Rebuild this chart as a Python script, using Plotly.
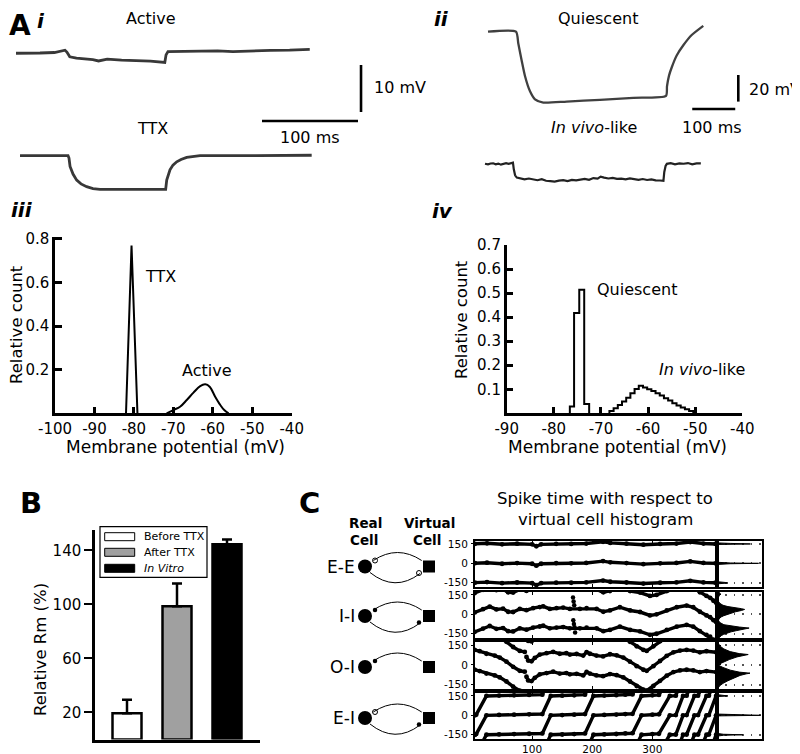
import plotly.graph_objects as go

# the page puts the figure 8px in from the corner, so positions below are page pixels shifted by OFF
OFF = 8
W, H = 800 - OFF, 754 - OFF
FONT = "DejaVu Sans"

# ---------------- A i : traces (ms, mV relative to resting level)
active_t = [0, 12, 25, 40, 51, 53, 56, 63, 72, 80, 86, 95, 110, 125, 140, 155, 156.3, 158.3, 175, 192, 210, 226, 245, 265, 285, 306]
active_dv = [-0.05, 0.05, 0.0, 0.1, 0.6, 0.2, -0.8, -1.1, -1.3, -1.4, -1.7, -1.3, -1.5, -1.6, -1.75, -2.0, -0.4, 0.3, 0.35, 0.4, 0.45, 0.3, 0.5, 0.55, 0.6, 0.75]
ttx_t = [4.2, 54.2, 55.2, 56.3, 59.4, 63.2, 67.7, 73.6, 80.2, 87.5, 155.9, 157.0, 160.4, 163.5, 167.4, 171.9, 177.8, 184.4, 191.7, 250, 308]
ttx_dv = [0, 0, -0.5, -2.3, -3.9, -5.2, -6.0, -6.6, -7.0, -7.15, -7.15, -5.2, -3.0, -2.0, -1.3, -0.8, -0.35, -0.13, 0, 0, 0.1]
scale_i = {"ms": 100, "mv": 10}

# ---------------- A ii
quiescent_t = [0, 65, 70.5, 78.4, 86, 97.7, 109.3, 128.6, 183, 260.5, 337.9, 414, 416.3, 421, 427.2, 438.8, 454.2, 473.7, 500.7]
quiescent_dv = [0, 0, -8.9, -21.8, -33.3, -44.8, -50.8, -53.3, -52.5, -51.2, -49.7, -48.2, -41, -33, -26.9, -17.9, -10.2, -2.5, 4.4]
invivo_t = [-7, 0, 6, 12, 18, 24, 30, 36, 42, 48, 54, 58, 60, 63, 67, 75, 85, 95, 105, 115, 125, 135, 145, 155,
            165, 175, 185, 195, 205, 215, 225, 235, 245, 255, 262, 270, 280, 290, 300, 310, 320, 330, 340, 350,
            360, 370, 380, 390, 400, 408, 410, 413, 416, 425, 435, 445, 455, 465, 475, 485, 495]
invivo_dv = [0.2, -0.3, 0.4, 0.5, -0.2, 0.3, -0.5, 0.2, 0.6, 0.1, 0.8, 1.0, -4.0, -8.5, -10.2, -10.8, -11.5, -10.9,
             -11.8, -12.2, -11.4, -12.6, -12.9, -13.2, -12.5, -12.1, -12.8, -11.9, -12.3, -11.6, -11.2, -11.9,
             -10.6, -11.0, -9.5, -10.2, -10.9, -10.4, -11.2, -11.0, -11.6, -10.8, -11.5, -11.9, -11.3, -12.0,
             -11.6, -12.3, -12.4, -12.7, -6.0, -1.5, 0.1, 0.6, -0.2, 0.4, 0.2, 0.7, -0.3, 0.5, 0.4]
scale_ii = {"ms": 100, "mv": 20}

# ---------------- A iii : membrane potential histograms
ttx_hist_v = [-82.0, -80.6, -79.1]
ttx_hist_c = [0, 0.77, 0]
active_hist_v = [-71.7, -70.0, -68.3, -66.6, -64.9, -63.2, -61.9, -60.8, -59.4, -58.1, -57.1, -56.0]
active_hist_c = [0, 0.015, 0.03, 0.061, 0.095, 0.125, 0.133, 0.122, 0.076, 0.038, 0.015, 0]

# ---------------- A iv
quiet_edges = [-76.6, -75.7, -74.6, -73.55, -72.5]
quiet_counts = [0.028, 0.417, 0.514, 0.039]
vivo_edges = [-68.2, -67.31, -66.42, -65.53, -64.64, -63.75, -62.86, -61.97, -61.08, -60.19, -59.3,
              -58.41, -57.52, -56.63, -55.74, -54.85, -53.96, -53.07, -52.18, -51.29, -50.4]
vivo_counts = [0.01, 0.021, 0.035, 0.049, 0.065, 0.083, 0.101, 0.115, 0.107, 0.1, 0.093, 0.083, 0.074,
               0.0625, 0.053, 0.042, 0.032, 0.024, 0.017, 0.01]

# ---------------- B
rm_groups = ["Before TTX", "After TTX", "<i>In Vitro</i>"]
rm_mean = [19.5, 98.5, 144.5]
rm_err = [10, 17, 3.5]
rm_colors = ["white", "#a0a0a0", "black"]

# ---------------- C : spike phase relative to virtual cell
PERIOD = 150
c_rows = ["E-E", "I-I", "O-I", "E-I"]
ee_x = [5, 25, 50, 75, 100, 107, 115, 140, 165, 190, 218, 230, 257, 285, 313, 340, 363, 385, 405]
ee_p = [1, 5, -3, 2, -3, -18, -3, 1, 0, 3, 17, 8, 2, -6, 0, 3, 15, 3, 0]
ii_x = [4.5, 18.4, 29.5, 40.6, 51.7, 60, 68.4, 79.5, 90.6, 101.7, 112.8, 118.4, 129.5, 140.6, 151.7, 162.8,
        179.5, 190.6, 207.3, 218.4, 229.5, 246, 263, 279.5, 296, 307, 324, 340.6, 357, 368, 379, 390, 396, 401.6, 406]
ii_p = [15, 40, 60, 38, 44, 20, 18, 42, 32, 48, 56, 62, 42, 48, 52, 42, 42, 48, 42, 20, 30, 55, 30, 18, -8, 0,
        30, 55, 68, 55, 20, -8, -22, -45, -60]
ii_slip_x = [168, 169, 170, 168.5, 169.5, 170.5, 171.5]
ii_slip_y = [130, 100, 70, -45, -75, -100, -140]
oi_x = [4.5, 12.8, 24, 37.8, 46.2, 57.3, 68.4, 79.5, 87.8, None,
        90.6, 93.4, 99, 104.5, 112.8, 124, 135, 146, 157, 162.8, 174, 185, 190.6, 196, 207, 218, 229.5, 240.6,
        251.7, 262.8, 273.9, 285, 290.6, 301.7, 312.8, 323.9, 335, 346, 357, 368, 379, 390, 406]
oi_p = [113, 103, 84, 70, 55, 24, -15, -45, -52, None,
        60, 32, 27, 52, 78, 88, 98, 84, 88, 78, 82, 70, 96, 84, 70, 64, 80, 72, 55, 24, -10, -37, -45, -10,
        29, 68, 95, 108, 113, 108, 95, 103, 95]
ei_x = [5, 7, 24, 45, 70, 95, 117, 131, 150, 170, 188, 202, 220, 240, 255, 267, 282, 300, 311, 329, 339, 351,
        357, 370, 376, 390, 394, 406]
ei_p = [-150, -145, 0, 3, 5, 8, 10, 150, 152, 155, 160, 300, 303, 306, 310, 312, 450, 455, 458, 600, 602, 750,
        752, 900, 902, 1050, 1052, 1200]

# histograms on the right of each raster (phase, relative count)
ee_h_p = [-185, -165, -158, -152, -148, -142, -135, -15, -8, -3, 0, 3, 8, 15, 140, 146, 150, 154, 158, 175]
ee_h_c = [0, 0, 0.02, 0.25, 0.2, 0.02, 0, 0, 0.03, 0.3, 0.93, 0.3, 0.03, 0, 0, 0.05, 0.75, 0.3, 0.02, 0]
ii_h_p = [-185, -175, -165, -155, -145, -135, -125, -115, -106, -98, -90, -80, -65, -50, -35, -20, -10, 0, 10,
          20, 30, 38, 44, 50, 60, 70, 85, 100, 120, 140, 160, 175]
ii_h_c = [0.04, 0.06, 0.1, 0.15, 0.22, 0.32, 0.45, 0.6, 0.72, 0.5, 0.3, 0.16, 0.08, 0.04, 0.05, 0.1, 0.16, 0.24,
          0.33, 0.42, 0.55, 0.62, 0.55, 0.4, 0.25, 0.14, 0.07, 0.04, 0.03, 0.05, 0.08, 0.04]
oi_h_p = [-185, -170, -155, -140, -120, -100, -80, -68, -63, -55, -40, -20, -5, 5, 20, 40, 60, 72, 78, 85,
          100, 120, 140, 160, 175]
oi_h_c = [0.02, 0.04, 0.08, 0.14, 0.25, 0.38, 0.52, 0.66, 0.74, 0.5, 0.3, 0.14, 0.05, 0.05, 0.14, 0.28, 0.45,
          0.62, 0.7, 0.5, 0.3, 0.16, 0.08, 0.04, 0.02]
ei_h_p = [-185, -160, -154, -150, -146, -140, -10, -4, 0, 4, 10, 140, 146, 150, 154, 160, 175]
ei_h_c = [0, 0.02, 0.15, 0.58, 0.15, 0.02, 0.01, 0.05, 0.97, 0.05, 0.01, 0.01, 0.05, 0.25, 0.05, 0.01, 0]

# schematic of the real / virtual cell coupling
diag_links = {
    "E-E": [("up", "exc"), ("down", "exc")],
    "I-I": [("up", "inh"), ("down", "inh")],
    "O-I": [("up", "inh")],
    "E-I": [("up", "exc"), ("down", "inh")],
}


def X(p):
    return (p - OFF) / W


def Y(p):
    return 1 - (p - OFF) / H


def xd(a, b):
    return [X(a), X(b)]


def yd(top, bottom):
    return [Y(bottom), Y(top)]


def names(n):
    return ("x" if n == 1 else f"x{n}", "y" if n == 1 else f"y{n}")


def shifted(vals, k):
    return [None if v is None else v + k * PERIOD for v in vals]


def hyphen(vals):
    return [str(v) for v in vals]


fig = go.Figure()
layout = {}
hidden = dict(visible=False, showgrid=False, zeroline=False)


def add(n, **kw):
    xa, ya = names(n)
    kw.setdefault("showlegend", False)
    kw.setdefault("hoverinfo", "skip")
    fig.add_trace(go.Scatter(xaxis=xa, yaxis=ya, **kw))


def set_axes(n, xdict, ydict):
    xa, ya = names(n)
    xdict.setdefault("automargin", False)
    ydict.setdefault("automargin", False)
    layout["xaxis" if n == 1 else f"xaxis{n}"] = dict(anchor=ya, **xdict)
    layout["yaxis" if n == 1 else f"yaxis{n}"] = dict(anchor=xa, **ydict)


trace_line = dict(color="#383838", width=2.8)

# A i  (0.96 px per ms, 4.7 px per mV)
set_axes(1, dict(domain=xd(8, 400), range=[-8.33, 400], **hidden),
         dict(domain=yd(30, 130), range=[-16.38, 4.89], **hidden))
set_axes(2, dict(domain=xd(8, 400), range=[-8.33, 400], **hidden),
         dict(domain=yd(130, 200), range=[-9.43, 5.47], **hidden))
add(1, x=active_t, y=active_dv, mode="lines", line=trace_line)
add(2, x=ttx_t, y=ttx_dv, mode="lines", line=trace_line)
add(1, x=[359.4, 359.4], y=[-2.55, -2.55 - scale_i["mv"]], mode="lines", line=dict(color="black", width=2.6))
add(1, x=[256.25, 256.25 + scale_i["ms"]], y=[-14.47, -14.47], mode="lines", line=dict(color="black", width=2.6))

# A ii  (0.43 px per ms, 1.33 px per mV)
set_axes(3, dict(domain=xd(400, 800), range=[-204.65, 725.6], **hidden),
         dict(domain=yd(15, 115), range=[-62.63, 12.56], **hidden))
set_axes(4, dict(domain=xd(400, 800), range=[-204.65, 725.6], **hidden),
         dict(domain=yd(135, 195), range=[-23.3, 21.8], **hidden))
add(3, x=quiescent_t, y=quiescent_dv, mode="lines", line=dict(color="#404040", width=2.3, shape="spline", smoothing=0.6))
add(4, x=invivo_t, y=invivo_dv, mode="lines", line=dict(color="#222", width=2.2))
add(3, x=[582.1, 582.1], y=[-32.56, -32.56 - scale_ii["mv"]], mode="lines", line=dict(color="black", width=2.6))
add(3, x=[475, 475 + scale_ii["ms"]], y=[-58.1, -58.1], mode="lines", line=dict(color="black", width=2.6))

# A iii / iv histograms
hist_ax = dict(showline=True, linewidth=2.5, linecolor="black", ticks="inside", ticklen=7, tickwidth=2.5,
               tickcolor="black", showgrid=False, zeroline=False, tickangle=0,
               tickfont=dict(size=15, color="black"))
iii_xt = list(range(-100, -39, 10))
iv_xt = list(range(-90, -39, 10))
set_axes(5, dict(domain=xd(55, 291.7), range=[-100, -40], tickvals=iii_xt, ticktext=hyphen(iii_xt), **hist_ax),
         dict(domain=yd(236.7, 413.3), range=[0, 0.81], tickvals=[0.2, 0.4, 0.6, 0.8], **hist_ax))
add(5, x=ttx_hist_v, y=ttx_hist_c, mode="lines", line=dict(color="black", width=2))
add(5, x=active_hist_v, y=active_hist_c, mode="lines", line=dict(color="black", width=2, shape="spline"))

set_axes(6, dict(domain=xd(506.7, 742.3), range=[-90, -40], tickvals=iv_xt, ticktext=hyphen(iv_xt), **hist_ax),
         dict(domain=yd(245, 413.3), range=[0, 0.7], tickvals=[0.1, 0.2, 0.3, 0.4, 0.5, 0.6, 0.7], **hist_ax))
for edges, counts in [(quiet_edges, quiet_counts), (vivo_edges, vivo_counts)]:
    add(6, x=[edges[0]] + edges, y=[0] + counts + [0], mode="lines",
        line=dict(color="black", width=2, shape="hv"))

# B
set_axes(7, dict(domain=xd(95, 260), range=[-0.64, 2.66], showline=True, linewidth=2.5, linecolor="black",
                 showticklabels=False, ticks="", showgrid=False, zeroline=False),
         dict(domain=yd(530, 739.5), range=[0, 155], tickvals=[20, 60, 100, 140], showline=True, linewidth=2.5,
              linecolor="black", ticks="outside", ticklen=8, tickwidth=2.2, tickcolor="black", showgrid=False,
              zeroline=False, tickfont=dict(size=15, color="black")))
fig.add_trace(go.Bar(x=[0, 1, 2], y=rm_mean, width=0.58, xaxis="x7", yaxis="y7", showlegend=False,
                     hoverinfo="skip", marker=dict(color=rm_colors, line=dict(color="black", width=2.5)),
                     error_y=dict(type="data", symmetric=False, array=rm_err, arrayminus=[0, 0, 0],
                                  color="black", thickness=2.5, width=5)))

# C schematic (axis units = page pixels)
set_axes(8, dict(domain=xd(320, 450), range=[320, 450], **hidden),
         dict(domain=yd(540, 740), range=[740, 540], **hidden))
row_y = [566.5, 616, 667, 718]
add(8, x=[365] * 4, y=row_y, mode="markers", marker=dict(symbol="circle", size=14, color="black"))
add(8, x=[429] * 4, y=row_y, mode="markers", marker=dict(symbol="square", size=12, color="black"))
shapes = []
for name, yc in zip(c_rows, row_y):
    for side, kind in diag_links[name]:
        if side == "up":
            path = f"M 373.3,{yc - 6} Q 397.5,{yc - 22} 421.7,{yc - 6}"
            ex, ey = 375, yc - 6
        else:
            path = f"M 370,{yc + 6} Q 395,{yc + 26} 420,{yc + 7}"
            ex, ey = 419, yc + 6.5
        shapes.append(dict(type="path", path=path, xref="x8", yref="y8", line=dict(color="black", width=1)))
        if kind == "exc":
            add(8, x=[ex], y=[ey], mode="markers",
                marker=dict(symbol="circle-open", size=5, color="black", line=dict(width=1)))
        else:
            add(8, x=[ex], y=[ey], mode="markers", marker=dict(symbol="circle", size=4.5, color="black"))

# C rasters + histograms
row_dom = [(540.7, 587.3), (591.7, 638.3), (641.7, 689.3), (692.7, 739.3)]
raster = [(ee_x, ee_p, [-1, 0, 1]), (ii_x, ii_p, [-1, 0, 1]), (oi_x, oi_p, [-1, 0, 1]),
          (ei_x, ei_p, list(range(-9, 2)))]
hists = [(ee_h_p, ee_h_c), (ii_h_p, ii_h_c), (oi_h_p, oi_h_c), (ei_h_p, ei_h_c)]
box = dict(showline=True, linewidth=2, linecolor="black", mirror="ticks", zeroline=False, showgrid=False)
c_yt = [150, 0, -150]
for i in range(4):
    top, bot = row_dom[i]
    nr, nh = 9 + i, 13 + i
    last = i == 3
    set_axes(nr, dict(domain=xd(475, 716.7), range=[5, 407], tickvals=[100, 200, 300], ticks="inside",
                      ticklen=3, tickwidth=1, tickcolor="black", showticklabels=last, ticklabelstandoff=-1,
                      tickfont=dict(size=10.5, color="black"), **box),
             dict(domain=yd(top, bot), range=[-185, 175], tickvals=c_yt, ticktext=hyphen(c_yt), ticks="outside",
                  ticklen=2, tickwidth=1, tickcolor="black", tickfont=dict(size=10.5, color="black"),
                  ticklabelstandoff=1, **box))
    set_axes(nh, dict(domain=xd(716.7, 761.7), range=[0, 1.0], showticklabels=False, ticks="", showline=True,
                      linewidth=2, linecolor="black", mirror=True, zeroline=False, showgrid=False),
             dict(domain=yd(top, bot), range=[-185, 175], tickvals=c_yt, showticklabels=False,
                  ticks="", showline=True, linewidth=2, linecolor="black", mirror=True, zeroline=False,
                  showgrid=True, gridcolor="#555", gridwidth=1.5, griddash="1.5px,7px"))
    xs, ps, ks = raster[i]
    for k in ks:
        add(nr, x=xs, y=shifted(ps, k), mode="lines+markers", connectgaps=False,
            line=dict(color="black", width=3.4), marker=dict(color="black", size=4.8))
    hp, hc = hists[i]
    add(nh, x=hc, y=hp, mode="lines", fill="tozerox", fillcolor="black", line=dict(color="black", width=1))
add(10, x=ii_slip_x, y=ii_slip_y, mode="markers", marker=dict(color="black", size=4.5))

# ---------------- annotations
ann = []


def text(x, y, s, size=16, xanchor="center", textangle=0):
    ann.append(dict(x=X(x), y=Y(y), xref="paper", yref="paper", text=s, showarrow=False,
                    xanchor=xanchor, yanchor="middle", textangle=textangle,
                    font=dict(size=size, color="black", family=FONT)))


text(7, 25, "<b>A</b>", 28, xanchor="left")
text(41, 21, "<b><i>i</i></b>", 20)
text(441, 19, "<b><i>ii</i></b>", 20)
text(22, 210, "<b><i>iii</i></b>", 20)
text(443, 211, "<b><i>iv</i></b>", 20)
text(31, 503, "<b>B</b>", 29)
text(309, 503, "<b>C</b>", 29)
text(151, 18, "Active")
text(152, 128, "TTX")
text(372, 88, "10 mV", xanchor="left")
text(310, 137.5, "100 ms")
text(598, 18, "Quiescent")
text(746.7, 90, "20 mV", xanchor="left")
text(711.7, 127.5, "100 ms")
text(594, 127, "<i>In vivo</i>-like")
text(160, 276, "TTX")
text(207, 370, "Active")
text(636.7, 289.3, "Quiescent")
text(701.7, 369.3, "<i>In vivo</i>-like")
text(175, 446.7, "Membrane potential (mV)", 17)
text(617.5, 446.7, "Membrane potential (mV)", 17)
text(17, 325, "Relative count", 16.5, textangle=-90)
text(461, 320, "Relative count", 16.5, textangle=-90)
text(40, 650, "Relative Rm (%)", 16.5, textangle=-90)
text(605, 498, "Spike time with respect to", 16.5)
text(605, 519, "virtual cell histogram", 16.5)
text(365, 522.5, "<b>Real</b>", 13.5)
text(348, 540, "<b>Cell</b>", 13.5, xanchor="left")
text(429, 522.5, "<b>Virtual</b>", 13.5)
text(427.5, 540, "<b>Cell</b>", 13.5)
for name, yc in zip(c_rows, row_y):
    text(357, yc, name, 17, xanchor="right")

# manual legend for B
shapes.append(dict(type="rect", xref="paper", yref="paper", x0=X(100), x1=X(207), y0=Y(577.3), y1=Y(526.7),
                   line=dict(color="black", width=1.2), fillcolor="white", layer="above"))
for j, (lab, col) in enumerate(zip(rm_groups, rm_colors)):
    yc = [536.7, 552.3, 568.3][j]
    shapes.append(dict(type="rect", xref="paper", yref="paper", x0=X(104.7), x1=X(134.7),
                       y0=Y(yc + 4), y1=Y(yc - 4), line=dict(color="black", width=1),
                       fillcolor=col, layer="above"))
    text(142, yc, lab, 11, xanchor="left")

fig.update_layout(width=W, height=H, margin=dict(l=0, r=0, t=0, b=0, pad=0, autoexpand=False),
                  paper_bgcolor="white", plot_bgcolor="rgba(0,0,0,0)", font=dict(family=FONT, color="black"),
                  annotations=ann, shapes=shapes, showlegend=False, **layout)
fig.write_html("out.html")
